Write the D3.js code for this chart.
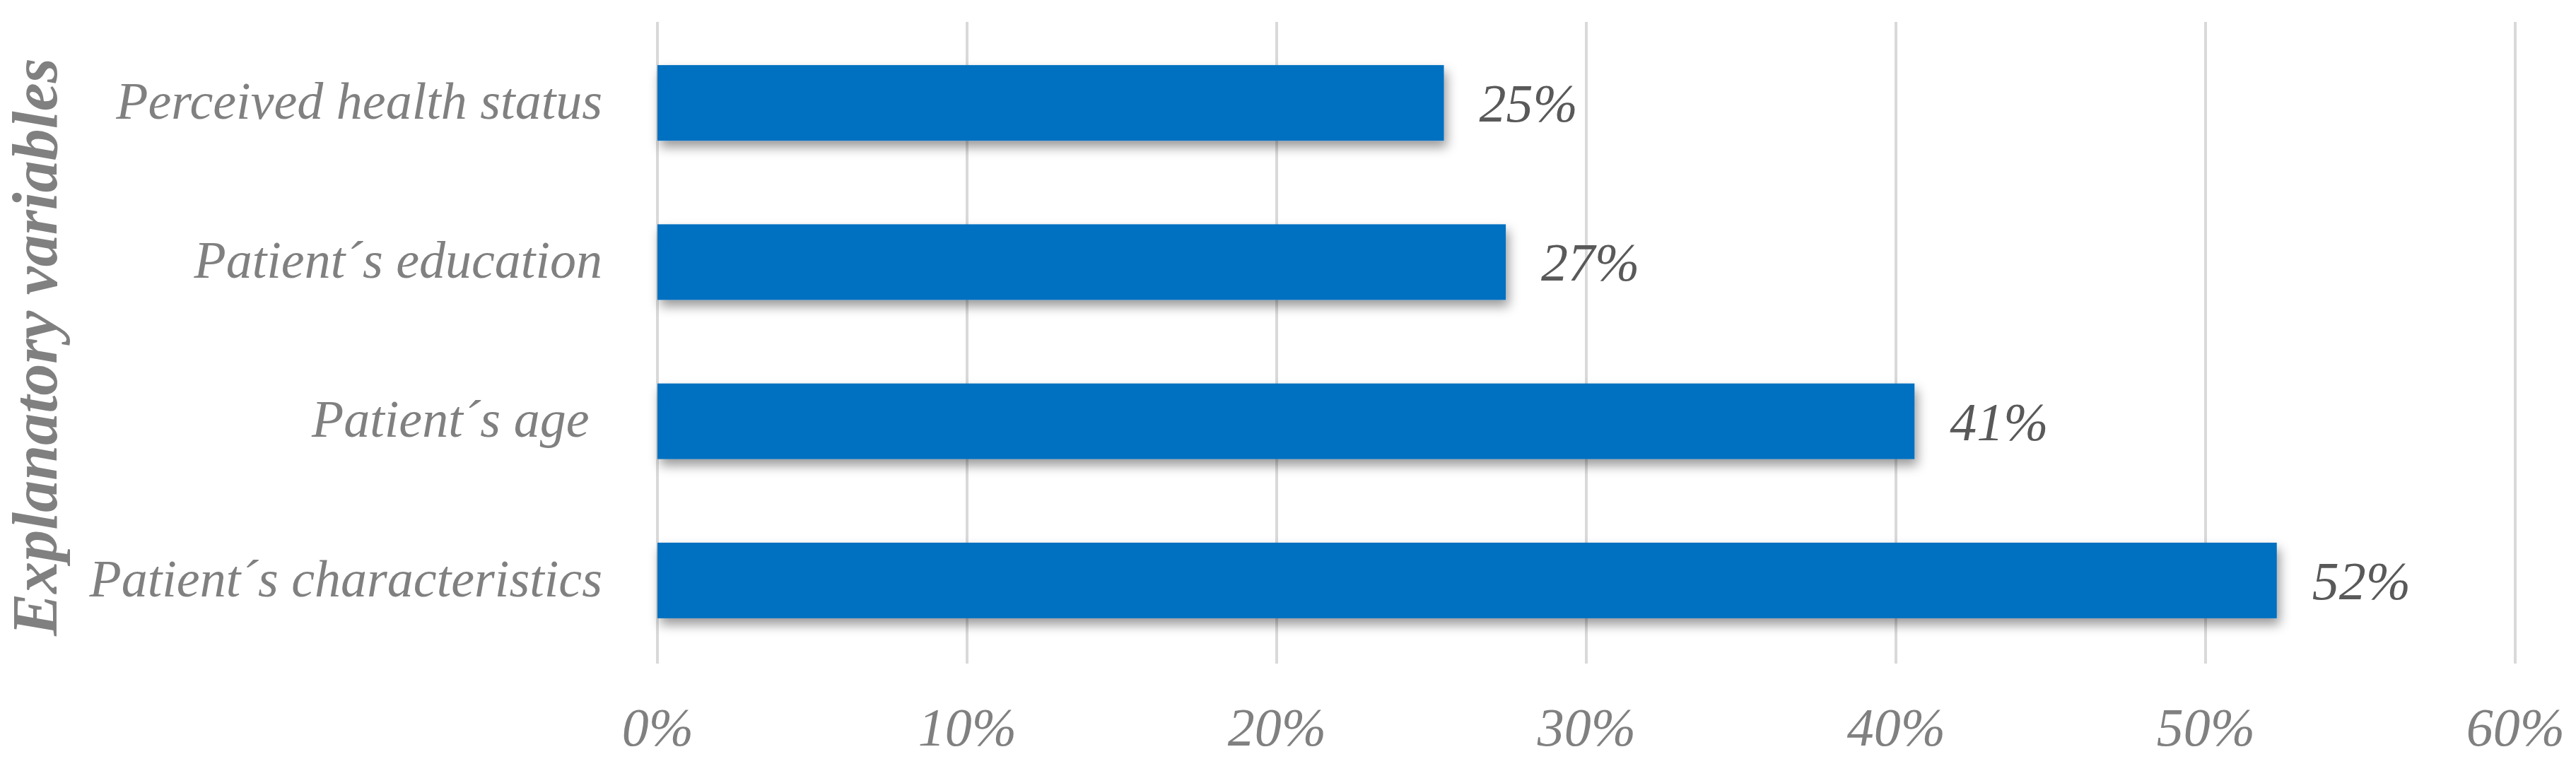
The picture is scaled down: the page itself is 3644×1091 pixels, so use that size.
<!DOCTYPE html>
<html>
<head>
<meta charset="utf-8">
<script src="https://cdnjs.cloudflare.com/ajax/libs/d3/7.8.5/d3.min.js"></script>
<style>
    html, body { margin: 0; padding: 0; background: #ffffff; }
    text { font-family: "Liberation Serif", "Times New Roman", "DejaVu Serif", serif; font-style: italic; white-space: pre; }
</style>
</head>
<body>
<div id="chart"></div>
<script>
"use strict";

// chart data
var categories = ["Perceived health status", "Patient\u00b4s education", "Patient\u00b4s age ", "Patient\u00b4s characteristics"];
var values = [0.254, 0.274, 0.406, 0.523];
var xTicks = [0, 0.1, 0.2, 0.3, 0.4, 0.5, 0.6];
var yTitle = "Explanatory variables";

var App = App || {};

(function() {

    App.start = function()
        {
            var svg_dx = 3644,
            svg_dy = 1091,
            margin = {top: 31, right: 86, bottom: 152, left: 930},
            plot_y1 = svg_dy - margin.bottom;

            var x = d3.scaleLinear().domain([0, 0.6]).range([margin.left, 3558]),
            y = d3.scaleBand().domain(categories).range([margin.top + 2, plot_y1 - 5]).paddingInner(0.525).paddingOuter(0.2625);

            var formatPct = d3.format(".0%");

            var svg = d3.select("#chart")
                    .append("svg")
                    .attr("width", svg_dx)
                    .attr("height", svg_dy);

            // soft shadow under the bars
            var filter = svg.append("defs")
                    .append("filter")
                    .attr("id", "shadow")
                    .attr("x", "-10%").attr("y", "-30%")
                    .attr("width", "130%").attr("height", "180%");
            filter.append("feDropShadow")
                .attr("dx", 4)
                .attr("dy", 9)
                .attr("stdDeviation", 8)
                .attr("flood-color", "#000")
                .attr("flood-opacity", 0.4);

            // vertical grid lines
            svg.append("g")
            .attr("id", "grid")
            .selectAll("line")
            .data(xTicks)
            .enter()
            .append("line")
            .attr("x1", d => x(d))
            .attr("x2", d => x(d))
            .attr("y1", margin.top)
            .attr("y2", plot_y1)
            .attr("stroke", "#d9d9d9")
            .attr("stroke-width", 4);

            var axis_x = d3.axisBottom(x)
                        .tickValues(xTicks)
                        .tickFormat(formatPct)
                        .tickSize(0)
                        .tickPadding(0);

            var gx = svg.append("g")
            .attr("id", "axis_x")
            .attr("transform", "translate(0," + plot_y1 + ")")
            .call(axis_x);
            gx.select(".domain").remove();
            gx.selectAll("text")
            .attr("y", 116)
            .attr("dy", null)
            .attr("fill", "#808080")
            .style("font-size", "76px");

            var axis_y = d3.axisLeft(y)
                        .tickSize(0)
                        .tickPadding(78);

            var gy = svg.append("g")
            .attr("id", "axis_y")
            .attr("transform", "translate(" + margin.left + ",0)")
            .call(axis_y);
            gy.select(".domain").remove();
            gy.selectAll("text")
            .attr("dy", "0.3em")
            .attr("fill", "#808080")
            .style("font-size", "74px");

            svg.append("text")
            .attr("transform", "translate(80," + ((margin.top + plot_y1) / 2 + 6) + ") rotate(-90)")
            .attr("text-anchor", "middle")
            .attr("fill", "#808080")
            .style("font-size", "90px")
            .style("font-weight", "bold")
            .text(yTitle);

            var data = categories.map((c, i) => ({name: c, value: values[i]}));

            svg.append("g")
            .attr("id", "bars")
            .selectAll("rect")
            .data(data)
            .enter()
            .append("rect")
            .attr("x", x(0))
            .attr("y", d => y(d.name))
            .attr("width", d => x(d.value) - x(0))
            .attr("height", y.bandwidth())
            .attr("fill", "#0070c0")
            .attr("filter", "url(#shadow)");

            svg.append("g")
            .attr("id", "labels")
            .selectAll("text")
            .data(data)
            .enter()
            .append("text")
            .attr("x", d => x(d.value) + 50)
            .attr("y", d => y(d.name) + y.bandwidth() / 2)
            .attr("dy", "0.35em")
            .attr("fill", "#595959")
            .style("font-size", "76px")
            .text(d => formatPct(d.value));
        };

    App.start();
})();
</script>
</body>
</html>
